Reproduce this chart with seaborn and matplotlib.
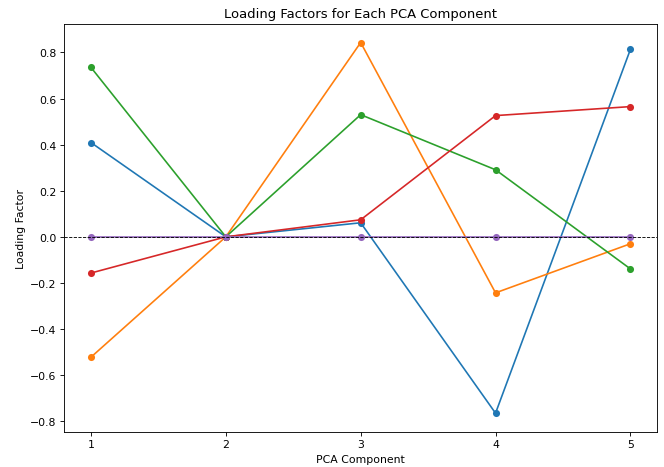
import matplotlib
matplotlib.use("Agg")
import matplotlib.pyplot as plt
import seaborn as sns
import pandas as pd

components = [1, 2, 3, 4, 5]
feature_1 = [0.409, 0.0, 0.061, -0.765, 0.813]
feature_2 = [-0.522, 0.0, 0.843, -0.243, -0.030]
feature_3 = [0.735, 0.0, 0.530, 0.291, -0.139]
feature_4 = [-0.157, 0.0, 0.074, 0.526, 0.565]
feature_5 = [0.0, 0.0, 0.0, 0.0, 0.0]

series = {"Feature 1": feature_1, "Feature 2": feature_2, "Feature 3": feature_3,
          "Feature 4": feature_4, "Feature 5": feature_5}
rows = []
for name, vals in series.items():
    for c, v in zip(components, vals):
        rows.append({"PCA Component": c, "Loading Factor": v, "Feature": name})
df = pd.DataFrame(rows)

DPI = 78.5
fig, ax = plt.subplots(figsize=(664 / DPI, 468 / DPI), dpi=DPI)
sns.lineplot(data=df, x="PCA Component", y="Loading Factor", hue="Feature",
             marker="o", markersize=6.5, markeredgewidth=0, linewidth=1.5,
             palette="tab10", legend=False, ax=ax)
ax.axhline(0, color="black", linestyle="--", linewidth=0.8)
ax.set_xticks(components)
ax.set_title("Loading Factors for Each PCA Component")
ax.set_xlabel("PCA Component")
ax.set_ylabel("Loading Factor")
fig.subplots_adjust(left=0.0964, right=0.990, bottom=0.0754, top=0.9466)
fig.savefig("out.png", dpi=DPI)
